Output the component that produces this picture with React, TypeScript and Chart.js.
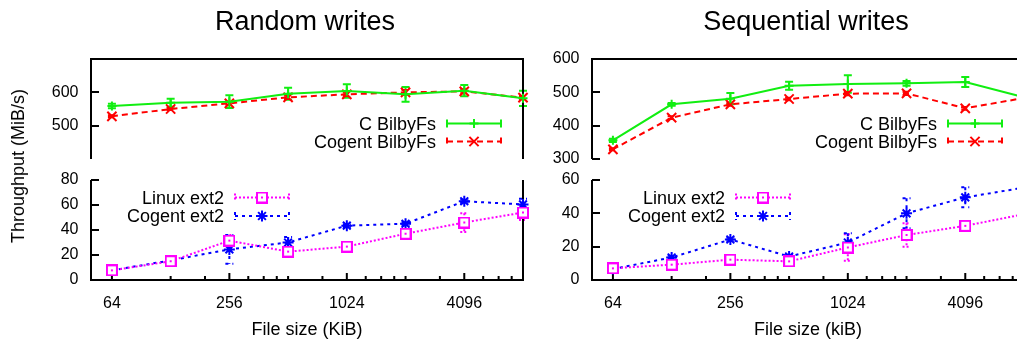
import React, { useEffect, useRef } from 'react';
import { Chart, registerables } from 'chart.js';
import { drawPoint } from 'chart.js/helpers';

Chart.register(...registerables);

// ---------------- data ----------------
const fileSizes = [64, 128, 256, 512, 1024, 2048, 4096, 8192];
const xTickLabels = [64, 256, 1024, 4096];
const xMinorTicks = [128, 192, 320, 384, 448, 512, 768, 1280, 1536, 1792, 2048, 3072, 5120, 6144, 7168];

const randTopTicks = [500, 600];
const randBottomTicks = [0, 20, 40, 60, 80];
const seqTopTicks = [300, 400, 500, 600];
const seqBottomTicks = [0, 20, 40, 60];

const seriesNames = ['C BilbyFs', 'Cogent BilbyFs', 'Linux ext2', 'Cogent ext2'];

const randCBilby = [559, 569, 572, 596, 604, 594, 605, 582];
const randCBilbyErr = [7, 12, 19, 18, 20, 22, 17, 23];
const randCogBilby = [528, 550, 567, 585, 594, 600, 603, 584];
const randCogBilbyErr = [3, 3, 4, 5, 5, 7, 6, 5];
const randLinuxExt2 = [7.7, 15, 31.5, 22.7, 26.7, 37, 46, 54];
const randLinuxExt2Err = [1, 1, 4.5, 3.5, 1.5, 3.6, 7.5, 6];
const randCogExt2 = [7.7, 15.7, 24.5, 30, 43.5, 45, 63, 60.5];
const randCogExt2Err = [0.5, 1, 11.5, 4.5, 1, 1.5, 1.5, 4.5];

const seqCBilby = [356, 464, 481, 520, 525, 527, 531, 485];
const seqCBilbyErr = [5, 4, 17, 12, 26, 7, 15, 10];
const seqCogBilby = [329, 424, 464, 480, 496, 497, 452, 483];
const seqCogBilbyErr = [3, 4, 4, 4, 5, 5, 4, 4];
const seqLinuxExt2 = [7, 9.2, 12.2, 11.2, 19.5, 27, 32.5, 39.5];
const seqLinuxExt2Err = [0.5, 1.5, 1, 1, 8, 7, 1.5, 2];
const seqCogExt2 = [6.6, 13.5, 24.3, 14.1, 22.5, 40, 49.6, 55.4];
const seqCogExt2Err = [0.5, 1, 1, 1, 5.5, 9, 6, 3];

// ---------------- styling ----------------
const FONT = '"Liberation Sans", Arial, Helvetica, sans-serif';
const GREEN = '#11ee11';
const RED = '#ff0000';
const MAGENTA = '#ff00ff';
const BLUE = '#0000ff';

function makeSquareMarker(color: string) {
  const c = document.createElement('canvas');
  c.width = 12;
  c.height = 12;
  const g = c.getContext('2d')!;
  g.fillStyle = '#ffffff';
  g.fillRect(1, 1, 10, 10);
  g.strokeStyle = color;
  g.lineWidth = 2;
  g.strokeRect(1, 1, 10, 10);
  g.fillStyle = color;
  g.fillRect(5, 5, 2, 2);
  return c;
}

const errorBarPlugin = {
  id: 'errorBars',
  beforeDatasetsDraw(chart: any) {
    const ctx = chart.ctx;
    const ys = chart.scales.y;
    chart.data.datasets.forEach((ds: any, i: number) => {
      const errs = ds.errors;
      if (!errs) return;
      const meta = chart.getDatasetMeta(i);
      ctx.save();
      ctx.strokeStyle = ds.borderColor;
      ctx.lineWidth = ds.borderWidth;
      ctx.setLineDash(ds.borderDash || []);
      const cap = 4;
      meta.data.forEach((pt: any, j: number) => {
        const v = ds.data[j].y;
        const e = errs[j];
        const yTop = ys.getPixelForValue(v + e);
        const yBot = ys.getPixelForValue(v - e);
        const px = pt.x;
        ctx.beginPath();
        ctx.moveTo(px, yTop);
        ctx.lineTo(px, yBot);
        ctx.moveTo(px - cap, yTop);
        ctx.lineTo(px + cap, yTop);
        ctx.moveTo(px - cap, yBot);
        ctx.lineTo(px + cap, yBot);
        ctx.stroke();
      });
      ctx.restore();
    });
  },
};

const framePlugin = {
  id: 'frame',
  beforeDatasetsDraw(chart: any, _args: any, opts: any) {
    const ctx = chart.ctx;
    const { left, right, top, bottom } = chart.chartArea;
    ctx.save();
    ctx.strokeStyle = '#000';
    ctx.lineWidth = 2;
    ctx.lineJoin = 'miter';
    ctx.setLineDash([]);
    ctx.beginPath();
    if (opts.kind === 'top') {
      ctx.moveTo(left, bottom);
      ctx.lineTo(left, top);
      ctx.lineTo(right, top);
      ctx.lineTo(right, bottom);
    } else {
      ctx.moveTo(left, top);
      ctx.lineTo(left, bottom);
      ctx.lineTo(right, bottom);
      ctx.lineTo(right, top);
    }
    ctx.stroke();
    // y ticks (inward)
    const ys = chart.scales.y;
    ctx.beginPath();
    (opts.yTicks || []).forEach((v: number) => {
      const py = Math.round(ys.getPixelForValue(v));
      ctx.moveTo(left, py);
      ctx.lineTo(left + 8, py);
    });
    ctx.stroke();
    if (opts.kind === 'bottom') {
      const xs = chart.scales.x;
      ctx.beginPath();
      xTickLabels.forEach((v) => {
        const px = xs.getPixelForValue(v);
        ctx.moveTo(px, bottom);
        ctx.lineTo(px, bottom - 7);
      });
      xMinorTicks.forEach((v) => {
        const px = xs.getPixelForValue(v);
        ctx.moveTo(px, bottom);
        ctx.lineTo(px, bottom - 4);
      });
      ctx.stroke();
    }
    ctx.restore();
  },
};

const keyPlugin = {
  id: 'key',
  afterDatasetsDraw(chart: any, _args: any, opts: any) {
    const ctx = chart.ctx;
    const { left, right, top } = chart.chartArea;
    const sampleLen = 54;
    const x0 = opts.anchor === 'right' ? right - opts.offsetX - sampleLen : left + opts.offsetX;
    chart.data.datasets.forEach((ds: any, i: number) => {
      const yy = top + opts.offsetY + i * opts.spacing;
      ctx.save();
      ctx.font = `18px ${FONT}`;
      ctx.textAlign = 'right';
      ctx.textBaseline = 'middle';
      ctx.fillStyle = '#000';
      ctx.fillText(ds.label, x0 - 11, yy + 1.5);
      ctx.strokeStyle = ds.borderColor;
      ctx.lineWidth = ds.borderWidth;
      ctx.setLineDash(ds.borderDash || []);
      ctx.beginPath();
      ctx.moveTo(x0, yy);
      ctx.lineTo(x0 + sampleLen, yy);
      ctx.moveTo(x0, yy - 4);
      ctx.lineTo(x0, yy + 4);
      ctx.moveTo(x0 + sampleLen, yy - 4);
      ctx.lineTo(x0 + sampleLen, yy + 4);
      ctx.stroke();
      ctx.setLineDash([]);
      ctx.fillStyle = ds.pointBackgroundColor;
      ctx.strokeStyle = ds.pointBorderColor;
      ctx.lineWidth = ds.pointBorderWidth;
      drawPoint(
        ctx,
        { pointStyle: ds.pointStyle, rotation: 0, radius: ds.pointRadius, borderWidth: ds.pointBorderWidth } as any,
        x0 + sampleLen / 2,
        yy
      );
      ctx.restore();
    });
  },
};

const titlePlugin = {
  id: 'panelTitle',
  afterDraw(chart: any, _args: any, opts: any) {
    if (!opts.text) return;
    const ctx = chart.ctx;
    const { left, right } = chart.chartArea;
    ctx.save();
    ctx.font = `27px ${FONT}`;
    ctx.fillStyle = '#000';
    ctx.textAlign = 'center';
    ctx.textBaseline = 'alphabetic';
    ctx.fillText(opts.text, (left + right) / 2 - 2, opts.baseline);
    ctx.restore();
  },
};

function ds(label: string, values: number[], errs: number[], style: any) {
  return {
    label,
    data: fileSizes.map((x, i) => ({ x, y: values[i] })),
    errors: errs,
    borderWidth: 2,
    tension: 0,
    clip: false,
    ...style,
  };
}

function buildConfig(p: any) {
  const isBottom = p.kind === 'bottom';
  return {
    type: 'line',
    data: { datasets: p.datasets },
    plugins: [errorBarPlugin, framePlugin, keyPlugin, titlePlugin],
    options: {
      responsive: false,
      animation: false,
      events: [],
      devicePixelRatio: 1,
      layout: { padding: p.padding },
      scales: {
        x: {
          type: 'logarithmic',
          min: 50,
          max: 8192,
          display: isBottom,
          afterBuildTicks: (s: any) => {
            s.ticks = xTickLabels.map((v) => ({ value: v }));
          },
          afterFit: (s: any) => {
            if (isBottom) s.height = 60;
            s.paddingLeft = 0;
            s.paddingRight = 0;
          },
          grid: { display: false, drawTicks: false },
          border: { display: false },
          ticks: {
            autoSkip: false,
            maxRotation: 0,
            minRotation: 0,
            padding: 14,
            color: '#000',
            font: { family: FONT, size: 16 },
            callback: (v: any) => String(v),
          },
          title: {
            display: isBottom,
            text: p.xTitle,
            color: '#000',
            font: { family: FONT, size: 18, lineHeight: 1 },
            padding: { top: 0, bottom: 1 },
          },
        },
        y: {
          type: 'linear',
          min: p.yMin,
          max: p.yMax,
          afterBuildTicks: (s: any) => {
            s.ticks = p.yTicks.map((v: number) => ({ value: v }));
          },
          afterFit: (s: any) => {
            s.width = 91;
            s.paddingTop = 0;
            s.paddingBottom = 0;
          },
          grid: { display: false, drawTicks: false },
          border: { display: false },
          ticks: {
            padding: 12.5,
            color: '#000',
            font: { family: FONT, size: 16 },
            callback: (v: any) => String(v),
          },
        },
      },
      plugins: {
        legend: { display: false },
        tooltip: { enabled: false },
        title: { display: false },
        frame: { kind: p.kind, yTicks: p.yTicks },
        key: p.key,
        panelTitle: { text: p.title || '', baseline: 29.5 },
      },
    },
  };
}

export default function App() {
  const lt = useRef<HTMLCanvasElement>(null);
  const lb = useRef<HTMLCanvasElement>(null);
  const rt = useRef<HTMLCanvasElement>(null);
  const rb = useRef<HTMLCanvasElement>(null);

  useEffect(() => {
    const sq = makeSquareMarker(MAGENTA);
    const sGreen = { borderColor: GREEN, backgroundColor: GREEN, pointStyle: 'cross', pointRadius: 4.5, pointBorderWidth: 2, pointBorderColor: GREEN, pointBackgroundColor: GREEN, borderDash: [] };
    const sRed = { borderColor: RED, backgroundColor: RED, pointStyle: 'crossRot', pointRadius: 6.5, pointBorderWidth: 2, pointBorderColor: RED, pointBackgroundColor: RED, borderDash: [6, 4] };
    const sMag = { borderColor: MAGENTA, backgroundColor: MAGENTA, pointStyle: sq, pointRadius: 6, pointBorderWidth: 2, pointBorderColor: MAGENTA, pointBackgroundColor: '#fff', borderDash: [2, 2] };
    const sBlue = { borderColor: BLUE, backgroundColor: BLUE, pointStyle: 'star', pointRadius: 5.5, pointBorderWidth: 2, pointBorderColor: BLUE, pointBackgroundColor: BLUE, borderDash: [3, 4] };

    const topKey = { anchor: 'right', offsetX: 22, offsetY: 64.5, spacing: 18 };
    const botKey = { anchor: 'left', offsetX: 144, offsetY: 17.5, spacing: 18.5 };

    const charts = [
      new Chart(lt.current!, buildConfig({
        kind: 'top', title: 'Random writes', yMin: 400, yMax: 700, yTicks: randTopTicks,
        padding: { left: 0, top: 59, right: 12, bottom: 11 }, key: topKey,
        datasets: [ds(seriesNames[0], randCBilby, randCBilbyErr, sGreen), ds(seriesNames[1], randCogBilby, randCogBilbyErr, sRed)],
      }) as any),
      new Chart(lb.current!, buildConfig({
        kind: 'bottom', xTitle: 'File size (KiB)', yMin: 0, yMax: 80, yTicks: randBottomTicks,
        padding: { left: 0, top: 10, right: 12, bottom: 0 }, key: botKey,
        datasets: [ds(seriesNames[2], randLinuxExt2, randLinuxExt2Err, sMag), ds(seriesNames[3], randCogExt2, randCogExt2Err, sBlue)],
      }) as any),
      new Chart(rt.current!, buildConfig({
        kind: 'top', title: 'Sequential writes', yMin: 300, yMax: 600, yTicks: seqTopTicks,
        padding: { left: 0, top: 59, right: 12, bottom: 11 }, key: topKey,
        datasets: [ds(seriesNames[0], seqCBilby, seqCBilbyErr, sGreen), ds(seriesNames[1], seqCogBilby, seqCogBilbyErr, sRed)],
      }) as any),
      new Chart(rb.current!, buildConfig({
        kind: 'bottom', xTitle: 'File size (kiB)', yMin: 0, yMax: 60, yTicks: seqBottomTicks,
        padding: { left: 0, top: 10, right: 12, bottom: 0 }, key: botKey,
        datasets: [ds(seriesNames[2], seqLinuxExt2, seqLinuxExt2Err, sMag), ds(seriesNames[3], seqCogExt2, seqCogExt2Err, sBlue)],
      }) as any),
    ];
    return () => charts.forEach((c) => c.destroy());
  }, []);

  const cv = (left: number, top: number): React.CSSProperties => ({ position: 'absolute', left, top, width: 535, height: 170 });

  return (
    <div style={{ position: 'absolute', left: 0, top: 0, width: 1017, height: 340, overflow: 'hidden', background: '#fff' }}>
      <canvas ref={lt} width={535} height={170} style={cv(0, 0)} />
      <canvas ref={lb} width={535} height={170} style={cv(0, 170)} />
      <canvas ref={rt} width={535} height={170} style={cv(501, 0)} />
      <canvas ref={rb} width={535} height={170} style={cv(501, 170)} />
      <div
        style={{
          position: 'absolute',
          left: 18,
          top: 166,
          transform: 'translate(-50%, -50%) rotate(-90deg)',
          whiteSpace: 'nowrap',
          fontFamily: FONT,
          fontSize: 18,
          lineHeight: 1,
          color: '#000',
        }}
      >
        Throughput (MiB/s)
      </div>
    </div>
  );
}
